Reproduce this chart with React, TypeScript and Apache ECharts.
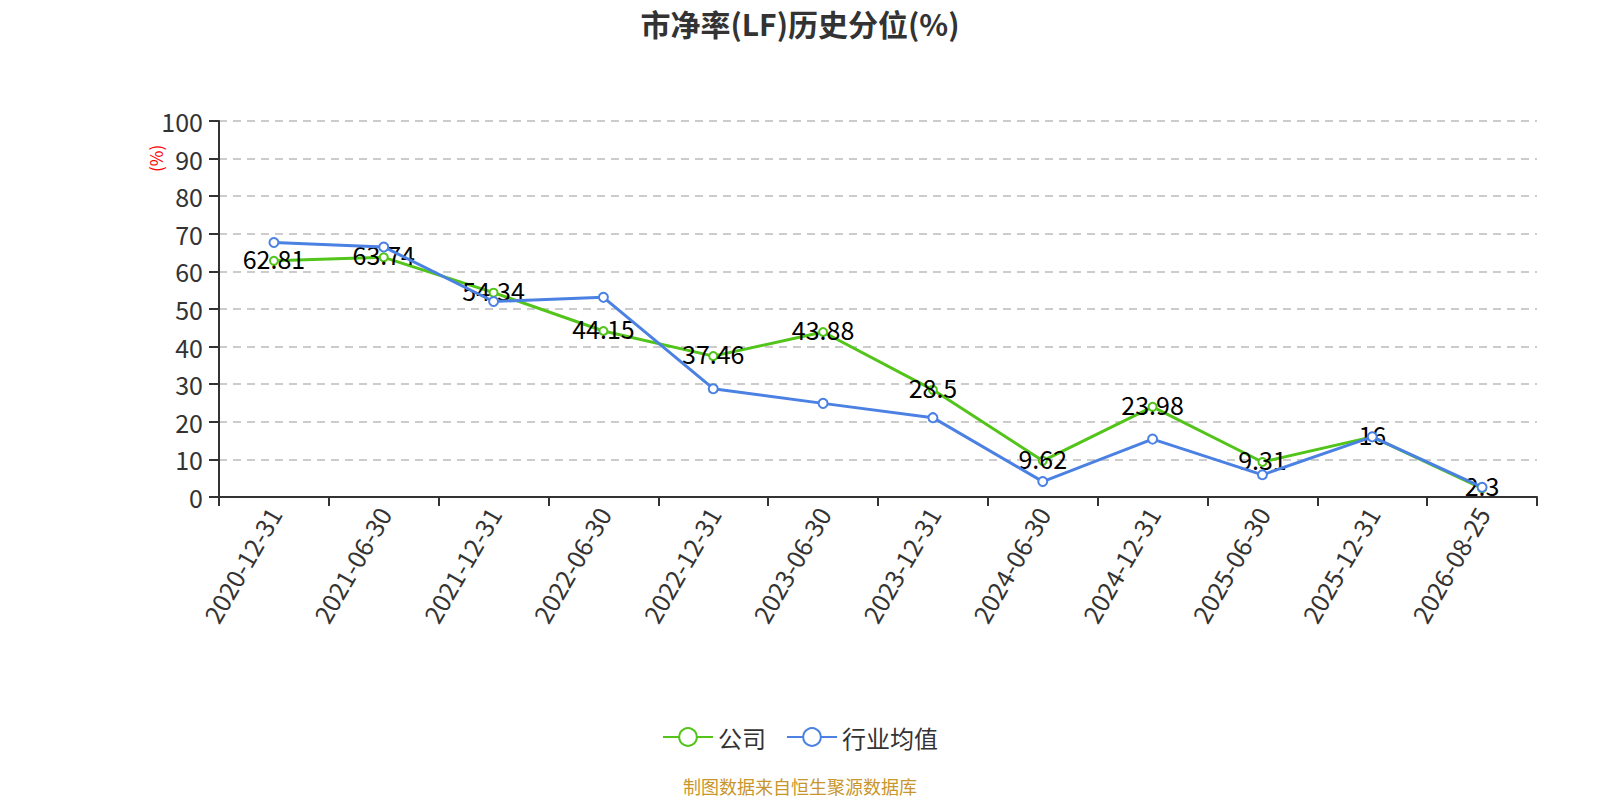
import React, { useEffect, useRef } from "react";
import * as echarts from "echarts";

const categories = [
  "2020-12-31", "2021-06-30", "2021-12-31", "2022-06-30", "2022-12-31", "2023-06-30",
  "2023-12-31", "2024-06-30", "2024-12-31", "2025-06-30", "2025-12-31", "2026-08-25",
];
const companyValues = [62.81, 63.74, 54.34, 44.15, 37.46, 43.88, 28.5, 9.62, 23.98, 9.31, 16, 2.3];
const industryValues = [67.7, 66.5, 52.0, 53.1, 28.8, 24.9, 21.1, 4.1, 15.4, 5.9, 16.0, 2.6];
const seriesNames = ["公司", "行业均值"];
const titleText = "市净率(LF)历史分位(%)";
const footerText = "制图数据来自恒生聚源数据库";
const yAxisUnit = "(%)";

const GREEN = "#52c41a";
const BLUE = "#4b81e3";
const FONT = "'Noto Sans CJK SC', 'Noto Sans', sans-serif";

export default function App() {
  const ref = useRef<HTMLDivElement>(null);
  useEffect(() => {
    if (!ref.current) return;
    const chart = echarts.init(ref.current, undefined, { renderer: "svg" });
    chart.setOption({
      animation: false,
      backgroundColor: "#ffffff",
      textStyle: { fontFamily: FONT },
      title: {
        text: titleText,
        left: "center",
        top: 3,
        textStyle: { fontSize: 30, fontWeight: "bold", color: "#333333", fontFamily: FONT },
      },
      legend: {
        data: seriesNames,
        bottom: 46,
        left: "center",
        itemWidth: 50,
        itemHeight: 22,
        itemGap: 20,
        textStyle: { fontSize: 24, color: "#333333", fontFamily: FONT },
      },
      graphic: [
        {
          type: "text",
          left: "center",
          bottom: 5,
          style: { text: footerText, fill: "#c8962d", fontSize: 18, fontFamily: FONT },
        },
        {
          type: "text",
          x: 147,
          y: 172,
          rotation: Math.PI / 2,
          style: { text: yAxisUnit, fill: "#ff0000", fontSize: 17, fontFamily: FONT },
        },
      ],
      grid: { left: 219, right: 63, top: 121, bottom: 303, containLabel: false },
      xAxis: {
        type: "category",
        data: categories,
        boundaryGap: true,
        axisLine: { show: true, lineStyle: { color: "#333333", width: 2 } },
        axisTick: { show: true, length: 9, lineStyle: { color: "#333333", width: 2 } },
        axisLabel: { rotate: 60, fontSize: 25, color: "#333333", margin: 12, fontFamily: FONT },
      },
      yAxis: {
        type: "value",
        min: 0,
        max: 100,
        interval: 10,
        axisLine: { show: true, lineStyle: { color: "#333333", width: 2 } },
        axisTick: { show: true, length: 10, lineStyle: { color: "#333333", width: 2 } },
        axisLabel: { fontSize: 25, color: "#333333", margin: 16, fontFamily: FONT },
        splitLine: { show: true, lineStyle: { color: "#cccccc", type: [8, 6], width: 2 } },
      },
      series: [
        {
          name: seriesNames[0],
          type: "line",
          data: companyValues,
          symbol: "emptyCircle",
          symbolSize: 8,
          color: GREEN,
          lineStyle: { width: 3, color: GREEN },
          itemStyle: { color: GREEN, borderWidth: 2 },
          label: {
            show: true,
            position: "inside",
            offset: [0, -3],
            fontSize: 25,
            color: "#000000",
            fontFamily: FONT,
          },
          z: 2,
        },
        {
          name: seriesNames[1],
          type: "line",
          data: industryValues,
          symbol: "emptyCircle",
          symbolSize: 9,
          color: BLUE,
          lineStyle: { width: 3, color: BLUE },
          itemStyle: { color: BLUE, borderWidth: 2 },
          z: 3,
        },
      ],
    });
    return () => chart.dispose();
  }, []);
  return (
    <div
      ref={ref}
      style={{ position: "absolute", left: 0, top: 0, width: 1600, height: 800 }}
    />
  );
}
